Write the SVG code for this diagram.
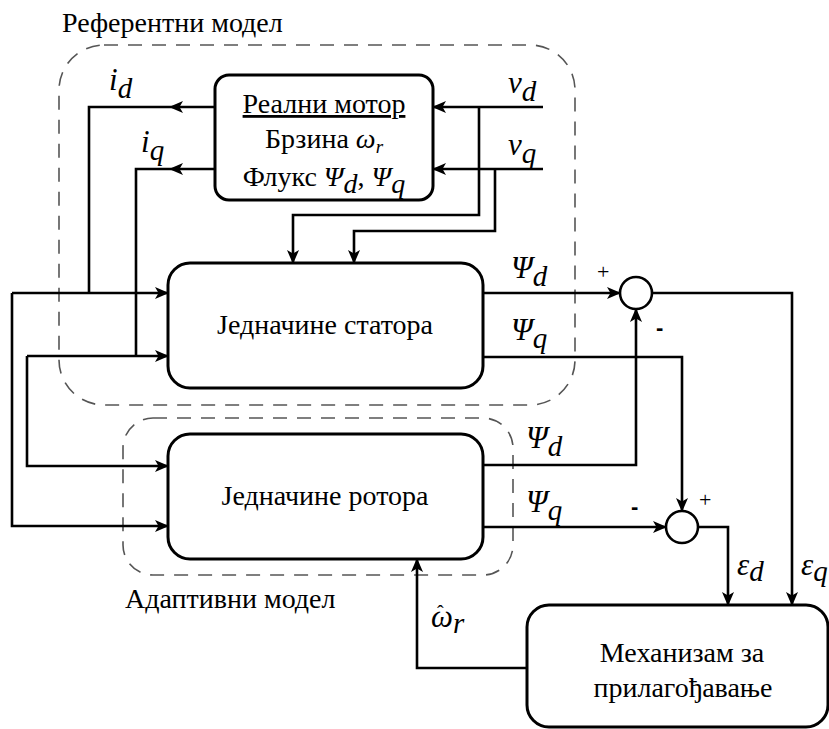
<svg xmlns="http://www.w3.org/2000/svg" width="829" height="729" viewBox="0 0 829 729">
<defs>
<style>
.box{fill:#fff;stroke:#000;stroke-width:3}
.dash{fill:none;stroke:#555;stroke-width:1.6;stroke-dasharray:14 10}
.ln{fill:none;stroke:#000;stroke-width:2.6}
.arr{fill:none;stroke:#000;stroke-width:2.6;marker-end:url(#ah)}
.sum{fill:#fff;stroke:#000;stroke-width:2.6}
</style>
<marker id="ah" markerUnits="userSpaceOnUse" viewBox="0 0 14 12" refX="13" refY="6" markerWidth="14" markerHeight="12" orient="auto">
<path d="M0,0 L14,6 L0,12 L3.5,6 z" fill="#000"/>
</marker>
</defs>
<rect width="829" height="729" fill="#fff"/>

<g id="ref-model">
<rect class="dash" x="59" y="45" width="516" height="360" rx="45"/>
<text font-family="Liberation Serif" font-size="28" x="62" y="32">Референтни модел</text>
</g>
<g id="adapt-model">
<rect class="dash" x="123" y="418" width="390" height="157" rx="30"/>
<text font-family="Liberation Serif" font-size="28" x="125" y="608">Адаптивни модел</text>
</g>

<g id="connectors">
<path class="ln" d="M170,107 H89 V293"/>
<path class="arr" d="M215,107 H170"/>
<path class="ln" d="M170,169 H136 V356"/>
<path class="arr" d="M215,169 H170"/>
<path class="arr" d="M543,107 H433"/>
<path class="arr" d="M543,169 H433"/>
<path class="arr" d="M479,107 V215 H293 V263"/>
<path class="arr" d="M495,169 V231 H354 V263"/>
<path class="arr" d="M12,293 H168"/>
<path class="arr" d="M12,293 V526 H168"/>
<path class="arr" d="M27,356 H168"/>
<path class="arr" d="M27,356 V466 H168"/>
<path class="arr" d="M483,293 H620"/>
<path class="arr" d="M652,293 H792 V605"/>
<path class="arr" d="M483,357 H682 V511"/>
<path class="arr" d="M483,465 H636 V309"/>
<path class="arr" d="M483,527 H666"/>
<path class="arr" d="M698,527 H728 V605"/>
<path class="arr" d="M527,668 H417 V559"/>
</g>

<g id="motor">
<rect class="box" x="215" y="75" width="218" height="125" rx="14"/>
<text font-family="Liberation Serif" font-size="28" x="324" y="113" text-anchor="middle" text-decoration="underline">Реални мотор</text>
<text font-family="Liberation Serif" font-size="28" x="324" y="148" text-anchor="middle">Брзина <tspan font-style="italic">ω</tspan><tspan font-style="italic" font-size="19" dy="5">r</tspan></text>
<text font-family="Liberation Serif" font-size="28" x="324" y="186" text-anchor="middle">Флукс <tspan font-style="italic">Ψ</tspan><tspan font-style="italic" dy="7">d</tspan><tspan dy="-7">, </tspan><tspan font-style="italic">Ψ</tspan><tspan font-style="italic" dy="7">q</tspan></text>
</g>

<g id="stator">
<rect class="box" x="168" y="263" width="315" height="125" rx="22"/>
<text font-family="Liberation Serif" font-size="28" x="325" y="334" text-anchor="middle">Једначине статора</text>
</g>

<g id="rotor">
<rect class="box" x="168" y="434" width="315" height="125" rx="22"/>
<text font-family="Liberation Serif" font-size="28" x="325" y="505" text-anchor="middle">Једначине ротора</text>
</g>

<g id="mechanism">
<rect class="box" x="527" y="605" width="301" height="122" rx="22"/>
<text font-family="Liberation Serif" font-size="28" x="682" y="662" text-anchor="middle">Механизам за</text>
<text font-family="Liberation Serif" font-size="28" x="683" y="697" text-anchor="middle">прилагођавање</text>
</g>

<g id="sum1">
<circle class="sum" cx="636" cy="293" r="16"/>
<text font-family="Liberation Serif" font-size="22" x="597" y="279">+</text>
<text font-family="Liberation Sans" font-size="22" font-weight="bold" x="656" y="335">-</text>
</g>
<g id="sum2">
<circle class="sum" cx="682" cy="527" r="16"/>
<text font-family="Liberation Serif" font-size="22" x="699" y="507">+</text>
<text font-family="Liberation Sans" font-size="22" font-weight="bold" x="631" y="514">-</text>
</g>

<g id="labels">
<text font-family="Liberation Serif" font-size="31" font-style="italic" x="109" y="90">i<tspan dy="8" font-size="29">d</tspan></text>
<text font-family="Liberation Serif" font-size="31" font-style="italic" x="141" y="152">i<tspan dy="8" font-size="29">q</tspan></text>
<text font-family="Liberation Serif" font-size="31" font-style="italic" x="508" y="93">v<tspan dy="8" font-size="29">d</tspan></text>
<text font-family="Liberation Serif" font-size="31" font-style="italic" x="508" y="155">v<tspan dy="8" font-size="29">q</tspan></text>
<text font-family="Liberation Serif" font-size="31" font-style="italic" x="511" y="278">Ψ<tspan dy="8" font-size="29">d</tspan></text>
<text font-family="Liberation Serif" font-size="31" font-style="italic" x="511" y="340">Ψ<tspan dy="8" font-size="29">q</tspan></text>
<text font-family="Liberation Serif" font-size="31" font-style="italic" x="526" y="448">Ψ<tspan dy="8" font-size="29">d</tspan></text>
<text font-family="Liberation Serif" font-size="31" font-style="italic" x="526" y="512">Ψ<tspan dy="8" font-size="29">q</tspan></text>
<text font-family="Liberation Serif" font-size="31" font-style="italic" x="737" y="575">ε<tspan dy="6" font-size="29">d</tspan></text>
<text font-family="Liberation Serif" font-size="31" font-style="italic" x="801" y="575">ε<tspan dy="6" font-size="29">q</tspan></text>
<text font-family="Liberation Serif" font-size="20" x="437" y="620">ˆ<tspan x="431" y="627" font-size="31" font-style="italic">ω</tspan><tspan dy="6" font-size="29" font-style="italic">r</tspan></text>
</g>
</svg>
